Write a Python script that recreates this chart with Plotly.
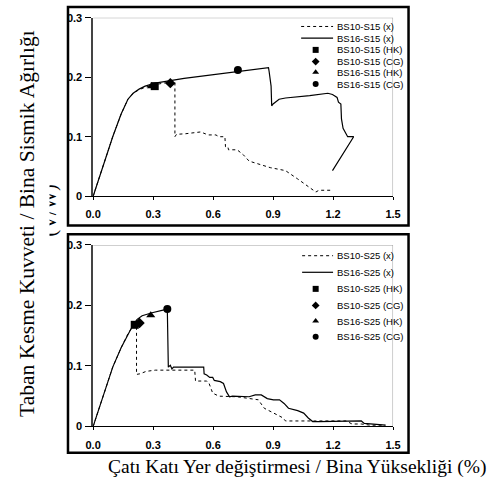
import plotly.graph_objects as go

W, H = 492, 488

# ---------------- data ----------------
# Top panel: S15
bs10_s15_x = [0.0, 0.05, 0.098, 0.14, 0.174, 0.20, 0.23, 0.26, 0.30, 0.386, 0.409, 0.409, 0.417, 0.462,
              0.538, 0.56, 0.576, 0.614, 0.629, 0.659, 0.662, 0.674, 0.677, 0.72, 0.75, 0.78, 0.826, 0.886,
              0.932, 0.962, 1.023, 1.083, 1.114, 1.129, 1.197]
bs10_s15_y = [0.0, 0.050, 0.100, 0.138, 0.163, 0.173, 0.179, 0.183, 0.187, 0.192, 0.193, 0.100, 0.104, 0.105,
              0.108, 0.105, 0.103, 0.103, 0.100, 0.100, 0.083, 0.083, 0.078, 0.078, 0.070, 0.059, 0.054, 0.048,
              0.045, 0.043, 0.029, 0.015, 0.007, 0.010, 0.010]
bs16_s15_x = [0.0, 0.05, 0.098, 0.14, 0.174, 0.20, 0.23, 0.26, 0.31, 0.455, 0.63, 0.80, 0.877, 0.88, 0.885,
              0.89, 0.893, 0.90, 0.93, 0.962, 1.083, 1.174, 1.197, 1.22, 1.227, 1.239, 1.242, 1.25, 1.273,
              1.303, 1.197]
bs16_s15_y = [0.0, 0.050, 0.100, 0.138, 0.163, 0.173, 0.180, 0.185, 0.190, 0.198, 0.205, 0.212, 0.216, 0.210,
              0.190, 0.185, 0.152, 0.155, 0.163, 0.165, 0.169, 0.173, 0.171, 0.166, 0.158, 0.155, 0.130, 0.114,
              0.100, 0.100, 0.043]
s15_hk10 = (0.308, 0.185)
s15_cg10 = (0.386, 0.190)
s15_hk16 = (0.292, 0.185)
s15_cg16 = (0.724, 0.212)

# Bottom panel: S25
bs10_s25_x = [0.0, 0.05, 0.098, 0.14, 0.174, 0.208, 0.217, 0.217, 0.235, 0.265, 0.311, 0.508, 0.512, 0.568,
              0.58, 0.598, 0.629, 0.72, 0.811, 0.826, 0.856, 0.886, 0.917, 0.95, 0.962, 1.114, 1.265, 1.295,
              1.341, 1.386, 1.462]
bs10_s25_y = [0.0, 0.050, 0.098, 0.130, 0.153, 0.170, 0.174, 0.086, 0.087, 0.091, 0.093, 0.093, 0.075, 0.075,
              0.071, 0.055, 0.050, 0.049, 0.045, 0.044, 0.030, 0.025, 0.020, 0.014, 0.009, 0.009, 0.009, 0.004,
              0.004, 0.002, 0.002]
bs16_s25_x = [0.0, 0.05, 0.098, 0.14, 0.174, 0.20, 0.22, 0.245, 0.295, 0.371, 0.376, 0.386, 0.394, 0.402,
              0.477, 0.553, 0.555, 0.568, 0.583, 0.598, 0.606, 0.636, 0.652, 0.667, 0.682, 0.697, 0.78, 0.811,
              0.841, 0.871, 0.902, 0.932, 0.955, 0.977, 1.023, 1.053, 1.076, 1.098, 1.129, 1.235, 1.341,
              1.356, 1.402, 1.447, 1.462]
bs16_s25_y = [0.0, 0.050, 0.098, 0.130, 0.153, 0.168, 0.177, 0.183, 0.188, 0.194, 0.098, 0.101, 0.095, 0.098,
              0.098, 0.098, 0.087, 0.085, 0.081, 0.081, 0.076, 0.074, 0.071, 0.057, 0.049, 0.050, 0.049, 0.052,
              0.052, 0.046, 0.044, 0.044, 0.038, 0.030, 0.026, 0.022, 0.014, 0.008, 0.008, 0.009, 0.009,
              0.005, 0.004, 0.003, 0.002]
s25_hk10 = (0.208, 0.168)
s25_cg10 = (0.232, 0.171)
s25_hk16 = (0.288, 0.184)
s25_cg16 = (0.371, 0.194)

x_ticks = [0.0, 0.3, 0.6, 0.9, 1.2, 1.5]
x_ticklabels = ["0.0", "0.3", "0.6", "0.9", "1.2", "1.5"]
y_ticks = [0.0, 0.1, 0.2, 0.3]
y_ticklabels = ["0", "0.1", "0.2", "0.3"]

legend_top = ["BS10-S15 (x)", "BS16-S15 (x)", "BS10-S15 (HK)", "BS10-S15 (CG)", "BS16-S15 (HK)", "BS16-S15 (CG)"]
legend_bot = ["BS10-S25 (x)", "BS16-S25 (x)", "BS10-S25 (HK)", "BS10-S25 (CG)", "BS16-S25 (HK)", "BS16-S25 (CG)"]

y_title = "Taban Kesme Kuvveti / Bina Sismik Ağırlığı"
y_title2 = "(V/W)"
x_title = "Çatı Katı Yer değiştirmesi / Bina Yüksekliği (%)"

# ---------------- layout geometry (pixels) ----------------
PX_X0, PX_X1 = 88, 398
TOP_Y0, TOP_Y1 = 195, 12      # pixel rows for y=0 and y=0.3
BOT_Y0, BOT_Y1 = 431, 245


def px(xp):
    return xp / W


def py(yp):
    return 1 - yp / H


SANS = "Liberation Sans, Arial, sans-serif"
SERIF = "Liberation Serif, Times New Roman, serif"

fig = go.Figure()

sym = {"hk10": "square", "cg10": "diamond", "hk16": "triangle-up", "cg16": "circle"}


def add_panel(xa, ya, x10, y10, x16, y16, hk10, cg10, hk16, cg16):
    fig.add_trace(go.Scatter(x=x10, y=y10, mode="lines", xaxis=xa, yaxis=ya,
                             line=dict(color="black", width=1, dash="dot"), showlegend=False))
    fig.add_trace(go.Scatter(x=x16, y=y16, mode="lines", xaxis=xa, yaxis=ya,
                             line=dict(color="black", width=1.2), showlegend=False))
    for key, pt in (("hk10", hk10), ("cg10", cg10), ("hk16", hk16), ("cg16", cg16)):
        fig.add_trace(go.Scatter(x=[pt[0]], y=[pt[1]], mode="markers", xaxis=xa, yaxis=ya,
                                 marker=dict(symbol=sym[key], color="black", size=8),
                                 showlegend=False, cliponaxis=False))


add_panel("x", "y", bs10_s15_x, bs10_s15_y, bs16_s15_x, bs16_s15_y, s15_hk10, s15_cg10, s15_hk16, s15_cg16)
add_panel("x2", "y2", bs10_s25_x, bs10_s25_y, bs16_s25_x, bs16_s25_y, s25_hk10, s25_cg10, s25_hk16, s25_cg16)

shapes = []
annotations = []

# custom legends (pixel overlay)
def add_legend(labels, y_rows, text_x, line_x0, line_x1, mark_x):
    for i, (lab, yr) in enumerate(zip(labels, y_rows)):
        annotations.append(dict(text=lab, x=px(text_x), y=py(yr), xref="paper", yref="paper",
                                xanchor="left", yanchor="middle", showarrow=False,
                                font=dict(family=SANS, size=9.5, color="black")))
        if i == 0:
            shapes.append(dict(type="line", xref="paper", yref="paper", x0=px(line_x0), x1=px(line_x1),
                               y0=py(yr), y1=py(yr), line=dict(color="black", width=1, dash="dot")))
        elif i == 1:
            shapes.append(dict(type="line", xref="paper", yref="paper", x0=px(line_x0), x1=px(line_x1),
                               y0=py(yr), y1=py(yr), line=dict(color="black", width=1.2)))
    keys = ["hk10", "cg10", "hk16", "cg16"]
    fig.add_trace(go.Scatter(x=[mark_x] * 4, y=y_rows[2:], mode="markers", xaxis="x3", yaxis="y3",
                             marker=dict(symbol=[sym[k] for k in keys], color="black", size=6),
                             showlegend=False, cliponaxis=False))


add_legend(legend_top, [21, 33, 45, 57, 68, 80], 338, 303, 336, 318)
add_legend(legend_bot, [256, 273, 290, 307, 323, 339], 338, 304, 336, 318)

# panel boxes
for (y0, y1) in ((1, 225), (234, 458)):
    shapes.append(dict(type="rect", xref="paper", yref="paper", x0=px(62), x1=px(414),
                       y0=py(y1), y1=py(y0), line=dict(color="black", width=2.5)))

# grey top/right spines
for xa, ya in (("x", "y"), ("x2", "y2")):
    shapes.append(dict(type="line", xref=xa, yref=ya, x0=0, x1=1.5, y0=0.3, y1=0.3,
                       line=dict(color="#9a9a9a", width=1)))
    shapes.append(dict(type="line", xref=xa, yref=ya, x0=1.5, x1=1.5, y0=0, y1=0.3,
                       line=dict(color="#9a9a9a", width=1)))

# axis titles
annotations.append(dict(text=y_title, x=px(19), y=py(223), xref="paper", yref="paper",
                        textangle=-90, showarrow=False, xanchor="center", yanchor="middle",
                        font=dict(family=SERIF, size=21.5, color="black")))
annotations.append(dict(text=y_title2, x=px(43), y=py(210), xref="paper", yref="paper",
                        textangle=-90, showarrow=False, xanchor="center", yanchor="middle",
                        font=dict(family=SERIF, size=20, color="black")))
# the second title line is partly hidden in the original
annotations.append(dict(text="", x=px(30), y=py(210), xref="paper", yref="paper",
                        showarrow=False, xanchor="left", yanchor="middle", width=9, height=60,
                        bgcolor="white"))
annotations.append(dict(text=x_title, x=px(299), y=py(473), xref="paper", yref="paper",
                        showarrow=False, xanchor="center", yanchor="middle",
                        font=dict(family=SERIF, size=19.5, color="black")))

xax = dict(range=[0, 1.5], tickvals=x_ticks, ticktext=x_ticklabels, showgrid=False, zeroline=False,
           showline=True, linecolor="black", linewidth=1, ticks="outside", ticklen=3, tickcolor="black",
           tickfont=dict(family=SANS, size=11, color="black", weight="bold"), ticklabelstandoff=5,
           domain=[px(PX_X0), px(PX_X1)], fixedrange=True)
yax = dict(range=[0, 0.3], tickvals=y_ticks, ticktext=y_ticklabels, showgrid=False, zeroline=False,
           showline=True, linecolor="#444", linewidth=1.5, ticks="outside", ticklen=6, tickcolor="black",
           tickfont=dict(family=SANS, size=11, color="black", weight="bold"), ticklabelstandoff=1,
           fixedrange=True)

fig.update_layout(
    width=W, height=H, margin=dict(l=0, r=0, t=0, b=0),
    paper_bgcolor="white", plot_bgcolor="rgba(0,0,0,0)", showlegend=False,
    xaxis=dict(xax, anchor="y"),
    yaxis=dict(yax, anchor="x", domain=[py(TOP_Y0), py(TOP_Y1)]),
    xaxis2=dict(xax, anchor="y2"),
    yaxis2=dict(yax, anchor="x2", domain=[py(BOT_Y0), py(BOT_Y1)]),
    xaxis3=dict(range=[0, W], domain=[0, 1], visible=False, anchor="y3", fixedrange=True),
    yaxis3=dict(range=[H, 0], domain=[0, 1], visible=False, anchor="x3", fixedrange=True),
    shapes=shapes, annotations=annotations,
)

fig.write_html("out.html")
